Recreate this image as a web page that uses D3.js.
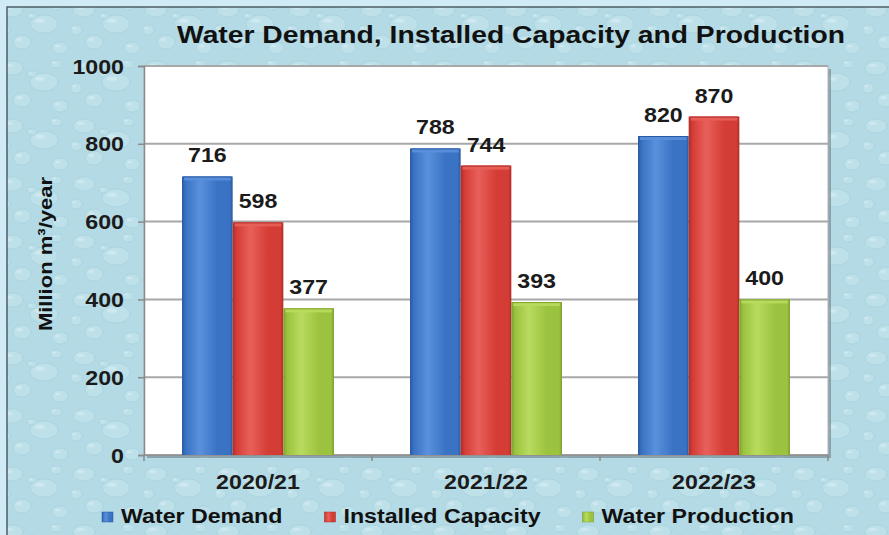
<!DOCTYPE html>
<html><head><meta charset="utf-8">
<script src="https://cdn.jsdelivr.net/npm/d3@7"></script>
<style>html,body{margin:0;padding:0;background:#d0eaf6;}svg{display:block;font-family:"Liberation Sans",Arial,sans-serif;}</style>
</head><body>
<svg id="c" width="889" height="535"></svg>
<script>
const categories = ["2020/21", "2021/22", "2022/23"];
const seriesNames = ["Water Demand", "Installed Capacity", "Water Production"];
const waterDemand = [716, 788, 820];
const installedCapacity = [598, 744, 870];
const waterProduction = [377, 393, 400];
const yTicks = [0, 200, 400, 600, 800, 1000];
const chartTitle = "Water Demand, Installed Capacity and Production";
const yTitle = "Million m\u00b3/year";

const seriesValues = [waterDemand, installedCapacity, waterProduction];
const colors = [
  {base:"#3b73c4", light:"#5a90dc", dark:"#2a5aa0"},
  {base:"#d43d36", light:"#e8605a", dark:"#b02c27"},
  {base:"#9cc33f", light:"#b9db5e", dark:"#7ca22c"}
];
const SX = 1.16;

const svg = d3.select("#c");
const defs = svg.append("defs");

// background texture
const pat = defs.append("pattern").attr("id","drops").attr("patternUnits","userSpaceOnUse")
  .attr("width",72).attr("height",58);
pat.append("rect").attr("width",72).attr("height",58).attr("fill","#b3dae5");
const dropSpecs = [[12,10,11,7],[44,24,14,9],[22,42,9,7],[60,48,8,6],[4,30,6,5],[56,6,6,4],[32,16,5,3]];
dropSpecs.forEach(([cx,cy,rx,ry])=>{
  pat.append("ellipse").attr("cx",cx).attr("cy",cy).attr("rx",rx).attr("ry",ry)
    .attr("fill","#cdeaf1").attr("fill-opacity",0.35).attr("stroke","#93c6d4").attr("stroke-opacity",0.35).attr("stroke-width",1);
  pat.append("ellipse").attr("cx",cx-rx*0.3).attr("cy",cy-ry*0.35).attr("rx",rx*0.35).attr("ry",ry*0.25)
    .attr("fill","#ffffff").attr("fill-opacity",0.25);
});

svg.append("rect").attr("x",0).attr("y",0).attr("width",889).attr("height",535).attr("fill","#d0eaf6");
svg.append("rect").attr("x",7).attr("y",7).attr("width",900).attr("height",560)
  .attr("fill","url(#drops)").attr("stroke","#4d5d66").attr("stroke-width",1.5);

// gradients
colors.forEach((c,i)=>{
  const g = defs.append("linearGradient").attr("id","g"+i).attr("x1","0").attr("x2","1").attr("y1","0").attr("y2","0");
  g.append("stop").attr("offset","0%").attr("stop-color",c.dark);
  g.append("stop").attr("offset","8%").attr("stop-color",c.base);
  g.append("stop").attr("offset","35%").attr("stop-color",c.light);
  g.append("stop").attr("offset","70%").attr("stop-color",c.base);
  g.append("stop").attr("offset","94%").attr("stop-color",c.base);
  g.append("stop").attr("offset","100%").attr("stop-color",c.dark);
});

const pLeft = 144, pRight = 828, pTop = 66, pBottom = 455;
const x0 = d3.scaleBand().domain(categories).range([pLeft,pRight]).padding(0);
const x1 = d3.scaleBand().domain(seriesNames).range([0,x0.bandwidth()]).paddingInner(0).paddingOuter(0.75);
const y = d3.scaleLinear().domain([0,1000]).range([pBottom,pTop]);

// plot area shadow and background
svg.append("rect").attr("x",pLeft+3).attr("y",pTop+3).attr("width",pRight-pLeft).attr("height",pBottom-pTop)
  .attr("fill","#6f7f86").attr("opacity",0.6);
svg.append("rect").attr("x",pLeft).attr("y",pTop).attr("width",pRight-pLeft).attr("height",pBottom-pTop)
  .attr("fill","#ffffff").attr("stroke","#b5b5b5").attr("stroke-width",1);

// gridlines
svg.append("g").selectAll("line").data(yTicks.filter(d=>d>0)).join("line")
  .attr("x1",pLeft).attr("x2",pRight).attr("y1",d=>y(d)).attr("y2",d=>y(d))
  .attr("stroke","#a8a8a8").attr("stroke-width",2);

function stretchText(sel, x, yy, sx){
  sel.attr("transform", `translate(${x},${yy}) scale(${sx},1)`);
}

// y axis
const yAxis = svg.append("g").attr("transform",`translate(${pLeft},0)`)
  .call(d3.axisLeft(y).tickValues(yTicks).tickSize(6).tickPadding(14).tickFormat(d3.format("d")));
yAxis.select(".domain").attr("stroke","#8a8a8a").attr("stroke-width",1.5);
yAxis.selectAll(".tick line").attr("stroke","#8a8a8a").attr("stroke-width",1.5);
yAxis.selectAll(".tick text").attr("font-size",20).attr("font-weight","bold").attr("fill","#1b1b1b")
  .attr("font-family","'Liberation Sans',Arial,sans-serif")
  .each(function(){
    const t = d3.select(this);
    const xx = +t.attr("x"); t.attr("x",0).attr("dy",null).attr("y",0);
    t.attr("transform",`translate(${xx},7) scale(${SX},1)`);
  });

// x axis
const xAxisG = svg.append("g");
xAxisG.append("line").attr("x1",pLeft).attr("x2",pRight).attr("y1",pBottom).attr("y2",pBottom)
  .attr("stroke","#8a8a8a").attr("stroke-width",1.5);
const boundaries = categories.map(c=>x0(c)).concat([x0(categories[categories.length-1])+x0.bandwidth()]);
xAxisG.selectAll("line.tk").data(boundaries).join("line").attr("class","tk")
  .attr("x1",d=>d).attr("x2",d=>d).attr("y1",pBottom).attr("y2",pBottom+6)
  .attr("stroke","#8a8a8a").attr("stroke-width",1.5);
xAxisG.selectAll("text").data(categories).join("text")
  .attr("text-anchor","middle").attr("font-size",20).attr("font-weight","bold").attr("fill","#1b1b1b")
  .text(d=>d)
  .each(function(d){ stretchText(d3.select(this), x0(d)+x0.bandwidth()/2, 489, SX); });

// bars
const barData = [];
categories.forEach((c,ci)=>{
  seriesNames.forEach((s,si)=>{
    barData.push({c, s, si, v: seriesValues[si][ci]});
  });
});
const bars = svg.append("g");
bars.selectAll("rect.bar").data(barData).join("rect").attr("class","bar")
  .attr("x",d=>x0(d.c)+x1(d.s)).attr("width",x1.bandwidth())
  .attr("y",d=>y(d.v)).attr("height",d=>y(0)-y(d.v))
  .attr("fill",d=>`url(#g${d.si})`);
bars.selectAll("rect.hl").data(barData).join("rect").attr("class","hl")
  .attr("x",d=>x0(d.c)+x1(d.s)+2).attr("width",x1.bandwidth()-4)
  .attr("y",d=>y(d.v)).attr("height",4)
  .attr("fill",d=>colors[d.si].light).attr("opacity",0.9);
bars.selectAll("line.edge").data(barData).join("line").attr("class","edge")
  .attr("x1",d=>x0(d.c)+x1(d.s)+1).attr("x2",d=>x0(d.c)+x1(d.s)+x1.bandwidth()-1)
  .attr("y1",d=>y(d.v)+0.5).attr("y2",d=>y(d.v)+0.5)
  .attr("stroke",d=>colors[d.si].dark).attr("stroke-width",1);

// data labels
svg.append("g").selectAll("text").data(barData).join("text")
  .attr("text-anchor","middle").attr("font-size",20).attr("font-weight","bold").attr("fill","#1b1b1b")
  .text(d=>d.v)
  .each(function(d){ stretchText(d3.select(this), x0(d.c)+x1(d.s)+x1.bandwidth()/2, y(d.v)-14, SX); });

// title
svg.append("text").attr("x",511).attr("y",43).attr("text-anchor","middle")
  .attr("font-size",24).attr("font-weight","bold").attr("fill","#111")
  .attr("textLength",668).attr("lengthAdjust","spacingAndGlyphs")
  .text(chartTitle);

// y title
svg.append("text").attr("text-anchor","middle").attr("font-size",19).attr("font-weight","bold").attr("fill","#111")
  .attr("transform",`translate(52,254) rotate(-90) scale(${SX},1)`)
  .text(yTitle);

// legend
const lg = svg.append("g");
let lx = 102;
seriesNames.forEach((s,i)=>{
  lg.append("rect").attr("x",lx).attr("y",512).attr("width",11).attr("height",10)
    .attr("fill",`url(#g${i})`).attr("stroke",colors[i].dark).attr("stroke-width",0.5);
  const t = lg.append("text").attr("font-size",20).attr("font-weight","bold").attr("fill","#111").text(s);
  stretchText(t, lx+19, 523, SX);
  const w = t.node().getComputedTextLength()*SX;
  lx = lx + 19 + w + 42;
});
</script>
</body></html>
